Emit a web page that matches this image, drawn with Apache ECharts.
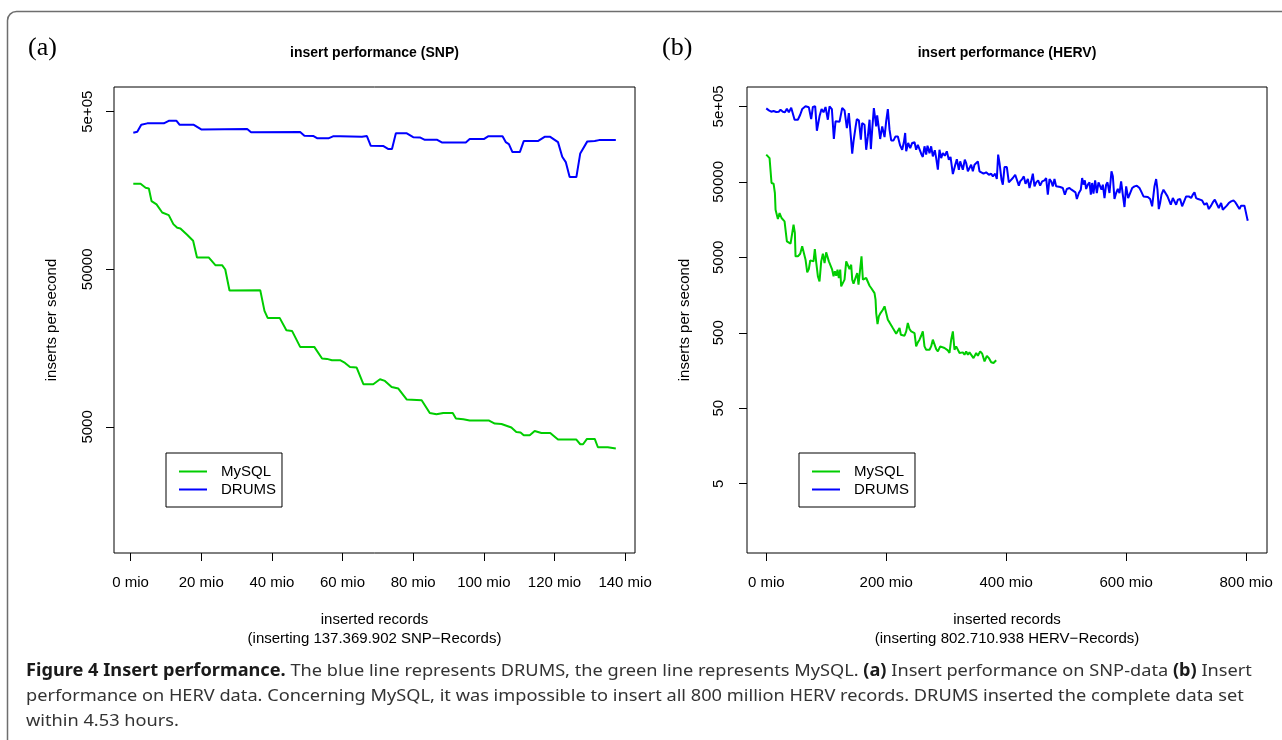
<!DOCTYPE html>
<html><head><meta charset="utf-8">
<script src="https://cdn.jsdelivr.net/npm/echarts@6/dist/echarts.min.js"></script>
<style>html,body{margin:0;padding:0;background:#fff}#c{width:1282px;height:740px}</style>
</head><body><div id="c"></div>
<script>
// ---------- data: panel (a) SNP ----------
const snpDrumsX = [0.76,1.89,3.02,4.72,9.4,10.8,13.0,13.9,17.9,20.0,33.0,34.1,48.0,49.2,51.8,52.9,56.0,57.3,59.3,65.5,66.9,68.0,71.6,73.0,74.0,75.1,78.2,80.0,81.9,83.3,86.8,88.1,94.9,96.0,100.0,101.2,105.3,106.2,107.1,108.1,110.2,111.3,115.3,117.2,118.8,121.0,122.2,123.2,124.3,126.2,127.3,129.3,131.4,132.6,137.37];
const snpDrumsY = [367800,373000,413000,422000,422000,438000,438000,413000,413000,386000,388000,370000,371500,352000,350400,339000,339000,349000,349000,346700,350400,304000,302700,289700,289700,364600,364600,345000,343700,331900,331900,319500,319500,335300,335300,349000,349000,320900,311700,277300,277300,325800,325800,346700,346700,320900,258800,239500,192400,192400,272100,324300,325800,330400,330400];
const snpMysqlX = [0.76,2.82,4.24,5.17,5.93,7.34,8.95,10.8,12.1,13.2,14.1,16.0,17.7,18.1,18.8,22.1,24.0,25.9,26.8,28.0,36.7,37.9,38.8,42.2,44.1,45.7,48.0,52.0,54.2,55.6,57.0,59.3,60.7,62.1,64.0,65.9,68.7,70.6,72.0,73.9,75.8,78.2,82.4,84.7,86.6,88.5,91.2,92.1,94.2,96.0,101.5,103.1,105.0,107.8,109.2,110.4,111.3,113.0,114.4,116.3,118.8,121.0,126.2,127.3,128.1,129.2,131.4,132.3,135.1,137.37];
const snpMysqlY = [174400,174400,164600,163100,135500,129100,114800,110400,96800,91700,90900,82800,75900,75200,59500,59500,53150,53150,49900,36700,36900,27250,24600,24600,20550,20340,16100,16100,13580,13510,13250,13250,12740,12010,11910,9330,9330,10040,9795,8970,8760,7463,7386,6134,6020,6134,6134,5652,5594,5488,5488,5253,5223,4955,4645,4606,4426,4426,4714,4579,4579,4157,4157,3882,3882,4194,4194,3715,3715,3646];
const snpXTicks = [0,20,40,60,80,100,120,140];
const snpYTicks = [5000,50000,500000];
const snpYTickLabels = ['5000','50000','5e+05'];

// ---------- data: panel (b) HERV ----------
const hervDrumsX = [0,4.4,8.3,12.2,16.6,21.1,23.8,27.7,31.1,34.4,37.7,41.6,44.4,47.2,52.7,56.6,59.9,65.5,71.0,74.9,77.7,81.6,84.4,88.8,92.2,95.5,98.8,102.7,105.5,109.4,112.7,115.5,122.2,126.6,130.5,134.4,137.7,141.0,143.3,145.5,148.8,151.0,154.4,157.7,159.9,163.8,166.6,169.4,172.2,174.4,176.6,179.4,183.3,184.9,187.7,189.9,193.3,197.2,199.9,202.7,205.5,208.3,212.2,215.5,219.4,223.3,226.6,229.4,231.6,233.3,236.6,240.0,243.3,247.2,249.9,252.7,255.5,258.3,261.0,263.8,266.6,268.8,272.2,274.9,277.7,281.0,283.3,286.1,288.8,291.6,294.4,297.7,301.0,304.4,307.2,311.1,314.4,317.7,321.1,323.3,327.7,331.0,333.3,336.1,338.8,341.6,344.4,347.2,350.0,352.8,355.5,358.3,362.2,366.6,371.1,375.0,377.8,381.6,384.4,386.6,388.9,392.2,394.4,397.2,401.1,404.4,406.6,411.1,415.0,417.8,421.1,423.3,426.6,429.4,432.2,436.1,438.9,441.6,444.4,447.2,450.0,453.3,456.6,460.0,463.9,466.6,469.4,472.2,475.0,477.8,480.5,483.3,486.6,490.0,494.4,497.8,501.1,505.5,508.9,512.2,515.5,517.8,521.1,524.4,526.6,528.9,531.1,533.3,536.1,538.9,541.1,543.3,545.5,548.3,551.1,553.9,556.6,558.9,561.1,563.9,566.6,568.9,572.2,575.5,577.8,580.5,583.3,586.1,588.9,591.6,594.4,597.2,600.0,603.3,606.6,610.0,613.9,617.8,622.2,625.0,628.9,632.2,636.1,640.0,643.3,647.2,650.0,652.2,654.4,656.6,658.9,662.2,665.5,668.9,671.1,674.4,677.8,680.5,683.3,686.1,690.0,693.3,696.6,700.0,704.4,708.3,711.1,713.9,716.6,720.0,723.3,726.6,730.5,734.4,737.8,741.6,744.4,747.8,751.1,754.4,758.3,761.1,764.4,767.8,771.1,775.0,778.9,782.2,785.5,788.9,791.6,794.4,797.2,800.0,802.2,802.7];
const hervDrumsY = [471000,443000,425000,434000,421000,425000,452000,425000,417000,466000,417000,481000,461000,333000,333000,388000,461000,501000,486000,340000,491000,501000,238000,369000,461000,417000,491000,333000,501000,461000,185000,317000,314000,476000,443000,258000,408000,200000,118000,172000,264000,340000,327000,181000,301000,286000,133000,200000,333000,136000,246000,476000,272000,380000,258000,185000,272000,196000,317000,461000,246000,177000,177000,200000,200000,151000,133000,167000,222000,127000,164000,140000,164000,167000,133000,155000,151000,118000,107000,148000,115000,151000,120000,148000,109000,131000,103000,72400,133000,103000,120000,111000,127000,98300,107000,63500,80200,100000,72400,93500,72400,98300,88800,68900,76200,84400,68900,84400,84400,93500,68900,72400,64100,66800,62200,64100,59100,64100,54500,115000,88800,53400,45900,78600,78600,49200,49200,56200,62200,65500,44500,50800,54500,59100,47300,54500,41400,50800,64100,43600,49200,52300,44500,50800,52300,56200,33800,54500,50800,43600,54500,43600,43600,42700,41400,33800,40200,41400,39400,40200,36300,29600,35600,39400,56200,45900,52300,40200,45900,49200,33800,48300,34800,52300,35600,49200,50800,39400,45900,30500,45900,49200,35600,68900,59100,29600,35600,40200,35600,50800,33800,23200,43600,30500,31500,41400,43600,44500,41400,37400,32100,33800,31500,29600,23700,43600,54500,39400,21800,26200,33800,39400,37400,32100,33800,24900,30500,29000,24900,29000,29600,23700,24900,32100,32100,30500,33800,36300,30500,29600,29000,28400,24900,26200,21800,24200,26700,29000,27600,22500,26200,21400,21800,24200,26200,27600,28400,26700,24200,21800,24200,25200,24200,24900,15800,15300];
const hervMysqlX = [0,3.3,5.5,7.7,8.8,12.2,14.4,15.5,17.7,19.4,22.2,23.8,25.5,27.7,30.5,33.3,34.4,37.7,40.5,43.3,45.5,47.7,48.8,52.7,56.6,59.9,62.7,65.5,68.3,71.0,73.3,76.6,78.8,81.0,83.3,86.1,88.8,91.6,94.4,97.2,99.9,102.7,104.4,107.2,109.9,112.2,114.4,116.6,118.8,121.0,123.3,124.9,127.7,130.5,133.3,136.1,138.8,141.6,143.3,145.5,148.8,151.6,153.8,156.6,158.8,161.1,163.8,166.6,169.9,172.2,174.9,177.7,180.5,182.2,183.3,185.5,187.7,190.5,194.4,197.2,199.9,202.7,205.5,208.3,211.0,213.8,216.6,219.4,222.2,224.4,227.7,230.5,233.3,236.0,238.8,241.6,244.4,247.2,249.9,252.7,255.5,258.3,261.0,263.8,266.6,269.4,272.2,274.9,277.7,280.5,283.3,286.1,290.0,293.3,297.2,299.9,302.7,305.5,308.3,311.1,313.8,316.6,319.4,322.2,324.9,327.7,330.5,333.3,336.1,338.8,341.6,345.5,350.0,352.8,356.6,360.0,363.9,367.8,371.1,375.0,378.9,383.3];
const hervMysqlY = [115000,111000,103000,102000,48300,47300,35600,21400,21000,16100,19300,20300,16600,17400,15000,14500,8140,7730,7580,8050,13500,10500,5150,5150,5580,6990,6990,4650,3160,3500,4560,4650,4420,6440,4290,2800,2400,4420,5580,4200,5820,6000,4420,4650,3430,2800,3260,2850,3430,2660,3430,2060,2060,2530,4420,4650,3500,3990,2530,2240,2240,3100,2170,2100,5150,2530,2660,2660,2580,2100,1960,2060,1680,1370,913,653,825,913,1010,1120,1180,745,687,673,578,596,486,486,578,472,496,457,522,673,561,522,496,496,330,373,405,457,522,330,298,314,298,330,405,426,304,284,330,314,314,330,292,270,405,522,298,330,314,270,256,275,256,284,256,275,264,231,270,248,284,264,209,248,231,203,199,216];
const hervXTicks = [0,200,400,600,800];
const hervYTicks = [5,50,500,5000,50000,500000];
const hervYTickLabels = ['5','50','500','5000','50000','5e+05'];

const seriesNames = ['MySQL','DRUMS'];
const colors = {MySQL:'#00CD00', DRUMS:'#0000FF'};

// ---------- layout ----------
const FONT = 'Liberation Sans';
const snpX = [-4.7, 142.8], snpY = [792.5, 717800];
const hervX = [-32.1, 834.8], hervY = [0.604, 903600];
const zip = (xs, ys) => xs.map((x, i) => [x, ys[i]]);
const lbl = (ticks, labels) => v => {
  for (let i = 0; i < ticks.length; i++) if (Math.abs(Math.log10(ticks[i]) - v) < 1e-6) return labels[i];
  return '';
};
const txt = {color:'#000', fontFamily:FONT, fontSize:15};

function xAxisDef(gi, range, ticks, name) {
  return {
    type:'value', gridIndex:gi, min:range[0], max:range[1], position:'bottom',
    axisLine:{show:false, onZero:false},
    axisTick:{show:true, customValues:ticks, length:8, lineStyle:{color:'#000', width:1}},
    axisLabel:Object.assign({customValues:ticks, margin:22, formatter:v => v + ' mio'}, txt),
    splitLine:{show:false},
    name:name, nameLocation:'middle', nameGap:58,
    nameTextStyle:Object.assign({lineHeight:18.5}, txt)
  };
}
function yAxesDef(gi, range, ticks, labels, margin) {
  const lt = ticks.map(t => Math.log10(t));
  return [
    {type:'log', gridIndex:gi, min:range[0], max:range[1], show:false, position:'left', splitLine:{show:false}},
    {type:'value', gridIndex:gi, min:Math.log10(range[0]), max:Math.log10(range[1]), position:'left',
     axisLine:{show:false, onZero:false},
     axisTick:{show:true, customValues:lt, length:8, lineStyle:{color:'#000', width:1}},
     axisLabel:Object.assign({customValues:lt, rotate:90, margin:margin, formatter:lbl(ticks, labels)}, txt),
     splitLine:{show:false},
     name:'inserts per second', nameLocation:'middle', nameRotate:90, nameGap:55,
     nameTextStyle:txt}
  ];
}
function lineSeries(name, xi, yi, xs, ys) {
  return {name:name, type:'line', xAxisIndex:xi, yAxisIndex:yi, data:zip(xs, ys),
    symbol:'none', showSymbol:false, lineStyle:{color:colors[name], width:2}, itemStyle:{color:colors[name]}};
}
function legendDef(left) {
  return {data:seriesNames, orient:'vertical', left:left, top:453, icon:'rect', itemWidth:28, itemHeight:2, itemGap:3,
    padding:[11,6,10,13], borderColor:'#000', borderWidth:1, backgroundColor:'#fff',
    textStyle:Object.assign({padding:[0,0,0,9]}, txt), selectedMode:false};
}

const chart = echarts.init(document.getElementById('c'), null, {renderer:'canvas'});
const CAP = {fontFamily:'Noto Sans', fontSize:17, fill:'#333', verticalAlign:'middle'};
const bold = {fontWeight:'bold', fill:'#1a1a1a', fontFamily:'Noto Sans', fontSize:17};
chart.setOption({
  animation:false,
  backgroundColor:'#fff',
  grid:[
    {left:114, top:87, width:521, height:466, show:true, borderColor:'#000', borderWidth:1, backgroundColor:'transparent'},
    {left:747, top:87, width:520, height:466, show:true, borderColor:'#000', borderWidth:1, backgroundColor:'transparent'}
  ],
  xAxis:[
    xAxisDef(0, snpX, snpXTicks, 'inserted records\n(inserting 137.369.902 SNP\u2212Records)'),
    xAxisDef(1, hervX, hervXTicks, 'inserted records\n(inserting 802.710.938 HERV\u2212Records)')
  ],
  yAxis:[].concat(yAxesDef(0, snpY, snpYTicks, snpYTickLabels, 19), yAxesDef(1, hervY, hervYTicks, hervYTickLabels, 21)),
  legend:[legendDef(166), legendDef(799)],
  series:[
    lineSeries('MySQL', 0, 0, snpMysqlX, snpMysqlY),
    lineSeries('DRUMS', 0, 0, snpDrumsX, snpDrumsY),
    lineSeries('MySQL', 1, 2, hervMysqlX, hervMysqlY),
    lineSeries('DRUMS', 1, 2, hervDrumsX, hervDrumsY)
  ],
  graphic:[
    {type:'rect', shape:{x:7.5, y:11.5, width:1300, height:760, r:9}, style:{fill:'none', stroke:'#6e6e6e', lineWidth:1.5}, silent:true},
    {type:'text', x:28, y:48, style:{text:'(a)', fontFamily:'Liberation Serif', fontSize:26, fill:'#000', verticalAlign:'middle'}},
    {type:'text', x:662, y:48, style:{text:'(b)', fontFamily:'Liberation Serif', fontSize:26, fill:'#000', verticalAlign:'middle'}},
    {type:'text', x:374.5, y:53, style:{text:'insert performance (SNP)', fontFamily:FONT, fontWeight:'bold', fontSize:14, fill:'#000', align:'center', verticalAlign:'middle'}},
    {type:'text', x:1007, y:53, style:{text:'insert performance (HERV)', fontFamily:FONT, fontWeight:'bold', fontSize:14, fill:'#000', align:'center', verticalAlign:'middle'}},
    {type:'text', x:26, y:671, scaleX:1.07, style:Object.assign({text:'{b|Figure 4 Insert performance.} The blue line represents DRUMS, the green line represents MySQL. {b|(a)} Insert performance on SNP-data {b|(b)} Insert', rich:{b:bold}}, CAP)},
    {type:'text', x:26, y:696, scaleX:1.07, style:Object.assign({text:'performance on HERV data. Concerning MySQL, it was impossible to insert all 800 million HERV records. DRUMS inserted the complete data set'}, CAP)},
    {type:'text', x:26, y:721, scaleX:1.07, style:Object.assign({text:'within 4.53 hours.'}, CAP)}
  ]
});
</script>
</body></html>
